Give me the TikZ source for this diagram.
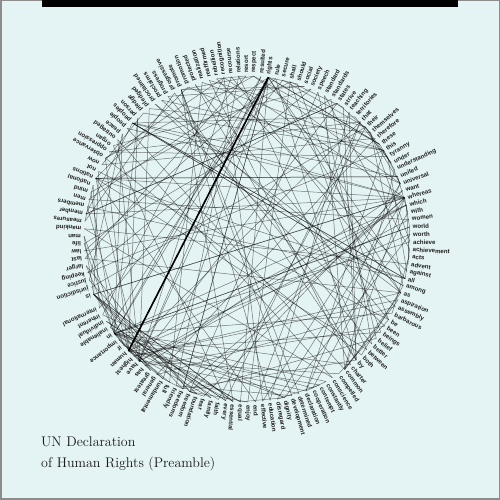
\documentclass[tikz,border=0pt]{standalone}
\usepackage{fontspec}
\newfontfamily\wordfont{Liberation Sans}
\newcommand\placewords[2]{%
  \foreach \w [count=\i from #1] in {#2}{%
    \pgfmathsetmacro\a{-1-2.608696*\i}%
    \coordinate (c-\w) at (\a:163);%
    \node[wordlbl,rotate=\a] (w-\w) at (\a:166) {\w};%
  }%
}
\begin{document}
\begin{tikzpicture}[x=1pt,y=1pt,
  wordlbl/.style={anchor=west,inner sep=0pt,font=\wordfont\bfseries\fontsize{6.1}{6.5}\selectfont,text=black!88},
  edge/.style={draw=black,draw opacity=0.5,line width=0.5pt},
  heavy/.style={draw=black,line width=1.6pt},
  titletext/.style={anchor=base west,inner sep=0pt,font=\fontsize{14}{17}\selectfont,text=black!90}]
\definecolor{bg}{RGB}{228,243,243}
\useasboundingbox (0,0) rectangle (500,500);
\fill[bg] (0,0) rectangle (500,500);
\draw[black!45,line width=1.5pt] (0.75,0.75) rectangle (499.25,499.25);
\fill[black] (42,493) rectangle (458,500);
\begin{scope}[shift={(247,261)}]
\placewords{0}{achieve,achievement,acts,advent,against,all,among,as,aspiration,assembly,barbarous,be,been,beings,belief,better,between,both,by,charter,common,compelled,conscience,constantly,contempt,cooperation,declaration,determined,development,dignity,disregard,education,effective,end,enjoy,equal,essential,every,faith,family,fear,foundation,freedom,freedoms,friendly,full,fundamental,general,greatest,has,have,highest,human,if,importance,in,inalienable,individual,inherent,international}
\placewords{61}{is,jurisdiction,justice,keeping,larger,last,law,life,man,mankind,measures,member,members,men,mind,national,nations,not,now,observance,oppression,organ,outraged,peace,people,peoples,person,pledge,pledged,proclaimed,proclaims,progress,progressive,promote,promotion,protected,realization,reaffirmed,rebellion,recognition,recourse,relations,resort,respect,resulted,rights,rule,secure,shall,should,social,society,speech,standard,standards,states,strive,teaching,territories,that,their,themselves,therefore,these,this,tyranny,under,understanding,united,universal,want,whereas,which,with,women,world,worth}
\foreach \w [remember=\w as \p (initially whereas)] in {recognition,inherent,dignity,equal,inalienable,rights,all,members,human,family,is,foundation,freedom,justice,peace,in,world,
whereas,disregard,contempt,human,rights,have,resulted,in,barbarous,acts,which,have,outraged,conscience,mankind,advent,world,in,which,human,beings,shall,enjoy,freedom,speech,belief,freedom,fear,want,has,been,proclaimed,as,highest,aspiration,common,people,
whereas,is,essential,if,man,is,not,be,compelled,have,recourse,as,last,resort,rebellion,against,tyranny,oppression,that,human,rights,should,be,protected,by,rule,law,
whereas,is,essential,promote,development,friendly,relations,between,nations,
whereas,peoples,united,nations,have,in,charter,reaffirmed,their,faith,in,fundamental,human,rights,in,dignity,worth,human,person,in,equal,rights,men,women,have,determined,promote,social,progress,better,standards,life,in,larger,freedom,
whereas,member,states,have,pledged,themselves,achieve,in,cooperation,with,united,nations,promotion,universal,respect,observance,human,rights,fundamental,freedoms,
whereas,common,understanding,these,rights,freedoms,is,greatest,importance,full,realization,this,pledge,
now,therefore,general,assembly,proclaims,this,universal,declaration,human,rights,as,common,standard,achievement,all,peoples,all,nations,end,that,every,individual,every,organ,society,keeping,this,declaration,constantly,in,mind,shall,strive,by,teaching,education,promote,respect,these,rights,freedoms,by,progressive,measures,national,international,secure,their,universal,effective,recognition,observance,both,among,peoples,member,states,themselves,among,peoples,territories,under,their,jurisdiction}{
  \draw[edge] (c-\p) -- (c-\w);
}
\draw[heavy] (c-human) -- (c-rights);
\end{scope}
\node[titletext] (t1) at (41,53) {UN Declaration};
\node[titletext] (t2) at (41,32) {of Human Rights (Preamble)};
\end{tikzpicture}
\end{document}
